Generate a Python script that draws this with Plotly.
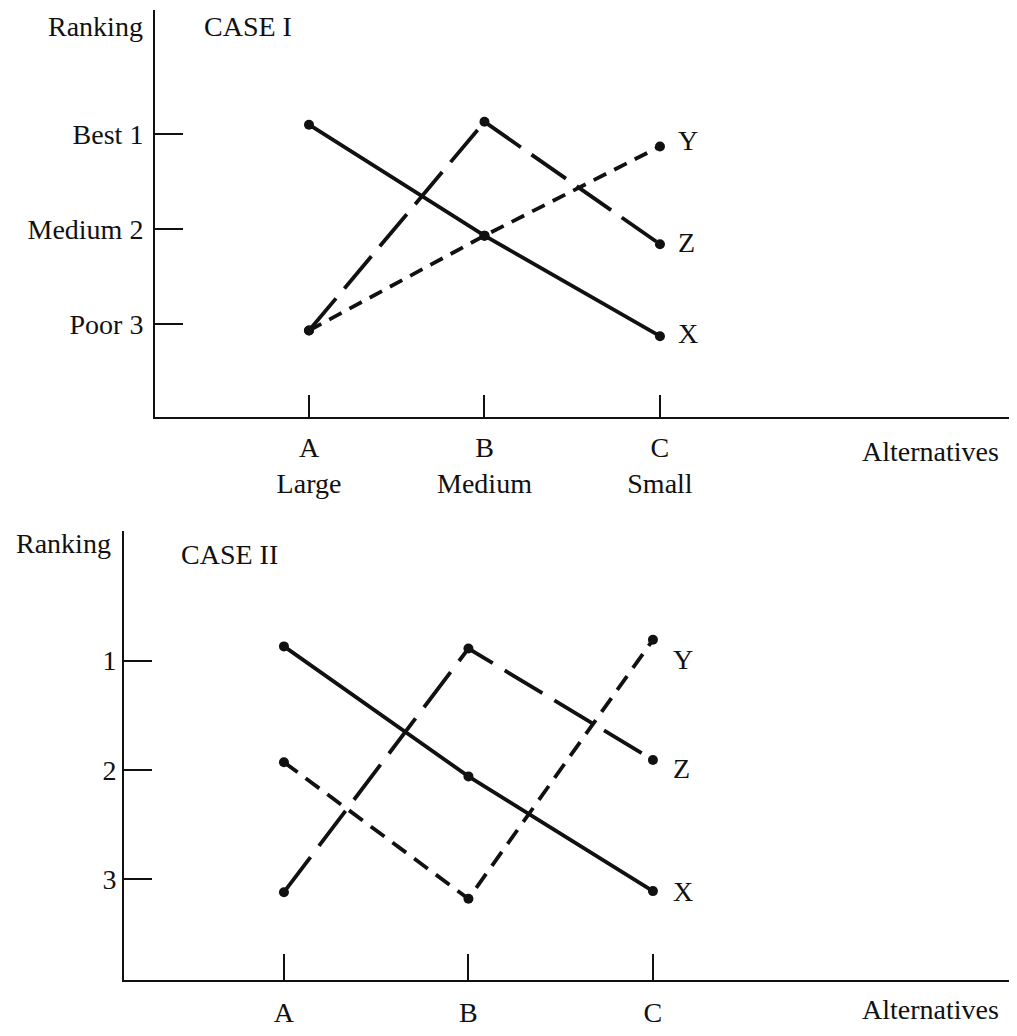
import plotly.graph_objects as go

# ---------------- data ----------------
alternatives = ["A", "B", "C"]
case1_sizes = ["Large", "Medium", "Small"]

# Case I rankings (1 = best)
case1_X = [0.90, 2.07, 3.13]
case1_Y = [3.07, 2.07, 1.13]
case1_Z = [3.07, 0.87, 2.16]

# Case II rankings
case2_X = [0.87, 2.06, 3.11]
case2_Y = [1.93, 3.18, 0.81]
case2_Z = [3.12, 0.89, 1.91]

case1_rank_ticks = [1, 2, 3]
case1_rank_text = ["Best 1", "Medium 2", "Poor 3"]
case2_rank_ticks = [1, 2, 3]
case2_rank_text = ["1", "2", "3"]

series_names = ["X", "Y", "Z"]

# ---------------- styles ----------------
# page body has an 8px margin, so the figure is drawn 16px smaller
OFF = 8
W, H = 1017 - 2 * OFF, 1036 - 2 * OFF
SY = 0.992  # small vertical correction observed in the rendered page
FONT = "Liberation Serif, Times New Roman, serif"
FS = 28
BLACK = "#111111"
LW = 3.8

def px_x(p):
    return min(max((p - OFF) / W, 0.0), 1.0)

def px_y(p):
    return min(max(1 - (p - OFF) / SY / H, 0.0), 1.0)

dash_styles_top = {"X": "solid", "Y": "14px,9px", "Z": "42px,13px"}
dash_styles_bot = {"X": "solid", "Y": "17px,10px", "Z": "44px,14px"}

fig = go.Figure()

def add_case(xref, yref, X, Y, Z, dashes):
    for name, vals in zip(series_names, [X, Y, Z]):
        fig.add_trace(go.Scatter(
            x=alternatives, y=vals, mode="lines+markers",
            line=dict(color=BLACK, width=LW, dash=dashes[name]),
            marker=dict(color=BLACK, size=10),
            xaxis=xref, yaxis=yref, showlegend=False, hoverinfo="skip",
        ))

add_case("x", "y", case1_X, case1_Y, case1_Z, dash_styles_top)
add_case("x2", "y2", case2_X, case2_Y, case2_Z, dash_styles_bot)

axis_common = dict(
    showgrid=False, zeroline=False, showline=True, linecolor=BLACK, linewidth=2,
    ticks="inside", tickcolor=BLACK, tickwidth=2,
    tickfont=dict(family=FONT, size=FS, color=BLACK),
    fixedrange=True,
)

fig.update_layout(
    width=W, height=H,
    margin=dict(l=0, r=0, t=0, b=0),
    paper_bgcolor="white", plot_bgcolor="white",
    font=dict(family=FONT, size=FS, color=BLACK),
    showlegend=False,
    xaxis=dict(**axis_common, domain=[px_x(155), px_x(1009)], anchor="y",
               type="category", categoryarray=alternatives,
               range=[-0.8775, 3.989], ticklen=22,
               tickvals=alternatives,
               ticktext=[f"{a}<br>{s}" for a, s in zip(alternatives, case1_sizes)],
               ticklabelstandoff=4),
    yaxis=dict(**axis_common, domain=[px_y(420), px_y(10)], anchor="x",
               range=[3.984, -0.309], ticklen=28,
               tickvals=case1_rank_ticks, ticktext=case1_rank_text,
               ticklabelstandoff=4),
    xaxis2=dict(**axis_common, domain=[px_x(124), px_x(1009)], anchor="y2",
                type="category", categoryarray=alternatives,
                range=[-0.867, 3.93], ticklen=26,
                tickvals=alternatives, ticktext=alternatives,
                ticklabelstandoff=6),
    yaxis2=dict(**axis_common, domain=[px_y(987), px_y(535)], anchor="x2",
                range=[3.927, -0.182], ticklen=28,
                tickvals=case2_rank_ticks, ticktext=case2_rank_text,
                ticklabelstandoff=0),
)

ann_font = dict(family=FONT, size=FS, color=BLACK)
# axis titles and case labels
fig.add_annotation(text="Ranking", xref="paper", yref="paper", x=px_x(145), y=px_y(27),
                   xanchor="right", yanchor="middle", showarrow=False, font=ann_font)
fig.add_annotation(text="CASE I", xref="paper", yref="paper", x=px_x(202), y=px_y(27),
                   xanchor="left", yanchor="middle", showarrow=False, font=ann_font)
fig.add_annotation(text="Alternatives", xref="paper", yref="paper", x=px_x(930), y=px_y(455),
                   xanchor="center", yanchor="middle", showarrow=False, font=ann_font)
fig.add_annotation(text="Ranking", xref="paper", yref="paper", x=px_x(113), y=px_y(547),
                   xanchor="right", yanchor="middle", showarrow=False, font=ann_font)
fig.add_annotation(text="CASE II", xref="paper", yref="paper", x=px_x(179), y=px_y(558),
                   xanchor="left", yanchor="middle", showarrow=False, font=ann_font)
fig.add_annotation(text="Alternatives", xref="paper", yref="paper", x=px_x(930), y=px_y(1016),
                   xanchor="center", yanchor="middle", showarrow=False, font=ann_font)

# series end labels
top_shift = {"X": 3, "Y": 6, "Z": 2}
bot_shift = {"X": 0, "Y": -20, "Z": -8}
for name, vals in zip(series_names, [case1_X, case1_Y, case1_Z]):
    fig.add_annotation(text=name, x=alternatives[-1], y=vals[-1], xref="x", yref="y",
                       xanchor="left", yanchor="middle", xshift=16, yshift=top_shift[name],
                       showarrow=False, font=ann_font)
for name, vals in zip(series_names, [case2_X, case2_Y, case2_Z]):
    fig.add_annotation(text=name, x=alternatives[-1], y=vals[-1], xref="x2", yref="y2",
                       xanchor="left", yanchor="middle", xshift=18, yshift=bot_shift[name],
                       showarrow=False, font=ann_font)

fig.write_html("out.html")
